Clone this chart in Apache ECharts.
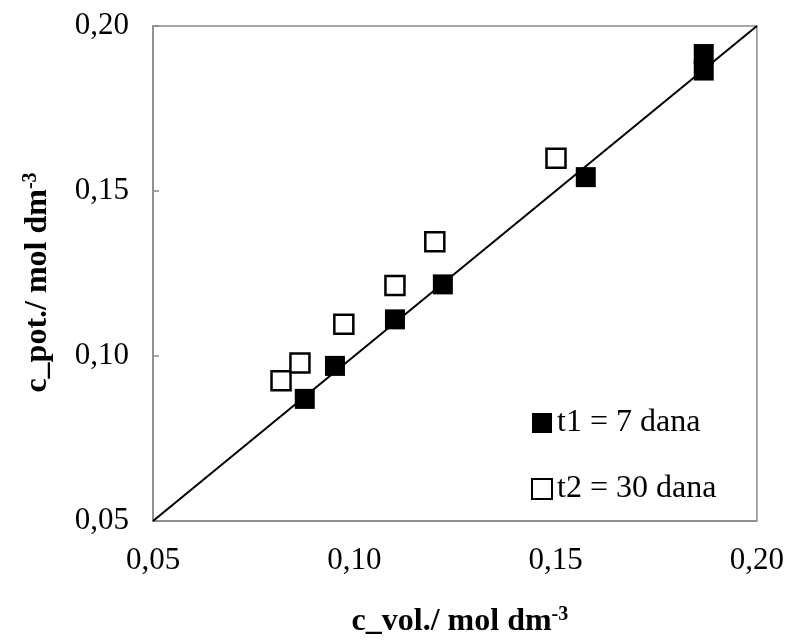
<!DOCTYPE html>
<html>
<head>
<meta charset="utf-8">
<script src="https://cdn.jsdelivr.net/npm/echarts@6/dist/echarts.min.js"></script>
<style>
  html, body { margin: 0; padding: 0; background: #fff; }
  #chart { width: 787px; height: 643px; }
</style>
</head>
<body>
<div id="chart"></div>
<script>
// t1 = 7 dana (filled squares): [c_vol, c_pot]
var t1Data = [
  [0.0877, 0.0870],
  [0.0952, 0.0970],
  [0.1101, 0.1111],
  [0.1220, 0.1217],
  [0.1575, 0.1542],
  [0.1868, 0.1865],
  [0.1868, 0.1915]
];
// t2 = 30 dana (open squares)
var t2Data = [
  [0.0818, 0.0925],
  [0.0865, 0.0979],
  [0.0974, 0.1096],
  [0.1101, 0.1214],
  [0.1200, 0.1346],
  [0.1501, 0.1599]
];
// y = x reference line
var refLine = [[0.05, 0.05], [0.20, 0.20]];
var axisMin = 0.05, axisMax = 0.20, axisStep = 0.05;
var seriesNames = ['t1 = 7 dana', 't2 = 30 dana'];

var serif = '"Liberation Serif", "Times New Roman", serif';
var gray = '#8a8a8a';
var fmt = function (v) { return v.toFixed(2).replace('.', ','); };
function titleStyle(pad) {
  return {
    fontFamily: serif,
    fontWeight: 'bold',
    fontSize: 32,
    color: '#000',
    padding: pad,
    rich: {
      sup: { fontFamily: serif, fontWeight: 'bold', fontSize: 20, color: '#000', verticalAlign: 'top', padding: [0, 0, 14, 0] }
    }
  };
}

var chart = echarts.init(document.getElementById('chart'));
chart.setOption({
  animation: false,
  backgroundColor: '#fff',
  grid: {
    left: 153, right: 30, top: 26, bottom: 119,
    show: true, borderColor: gray, borderWidth: 1.5
  },
  legend: {
    data: seriesNames,
    orient: 'vertical',
    left: 526, top: 401,
    itemWidth: 20, itemHeight: 20,
    itemGap: 32,
    icon: 'rect',
    textStyle: { fontFamily: serif, fontSize: 32, color: '#000', lineHeight: 34 }
  },
  xAxis: {
    type: 'value',
    min: axisMin, max: axisMax, interval: axisStep,
    name: 'c_vol./ mol dm{sup|-3}',
    nameLocation: 'middle',
    nameGap: 84,
    nameTextStyle: titleStyle([0, 0, 0, 10]),
    axisLine: { show: true, lineStyle: { color: gray, width: 1.5 } },
    axisTick: { show: false },
    splitLine: { show: false },
    axisLabel: { formatter: fmt, fontFamily: serif, fontSize: 31, color: '#000', margin: 24 }
  },
  yAxis: {
    type: 'value',
    min: axisMin, max: axisMax, interval: axisStep,
    name: 'c_pot./ mol dm{sup|-3}',
    nameLocation: 'middle',
    nameGap: 98,
    nameTextStyle: titleStyle([0, 18, 0, 0]),
    axisLine: { show: true, lineStyle: { color: gray, width: 1.5 } },
    axisTick: { show: true, inside: true, length: 6, lineStyle: { color: gray, width: 1.5 } },
    splitLine: { show: false },
    axisLabel: { formatter: fmt, fontFamily: serif, fontSize: 31, color: '#000', margin: 24 }
  },
  series: [
    {
      type: 'line',
      data: refLine,
      symbol: 'none',
      silent: true,
      lineStyle: { color: '#000', width: 2 },
      z: 1
    },
    {
      name: seriesNames[0],
      type: 'scatter',
      data: t1Data,
      symbol: 'rect',
      symbolSize: 20,
      itemStyle: { color: '#000', opacity: 1 },
      z: 3
    },
    {
      name: seriesNames[1],
      type: 'scatter',
      data: t2Data,
      symbol: 'rect',
      symbolSize: 19,
      itemStyle: { color: '#fff', borderColor: '#000', borderWidth: 2.5, opacity: 1 },
      z: 3
    }
  ]
});
</script>
</body>
</html>
